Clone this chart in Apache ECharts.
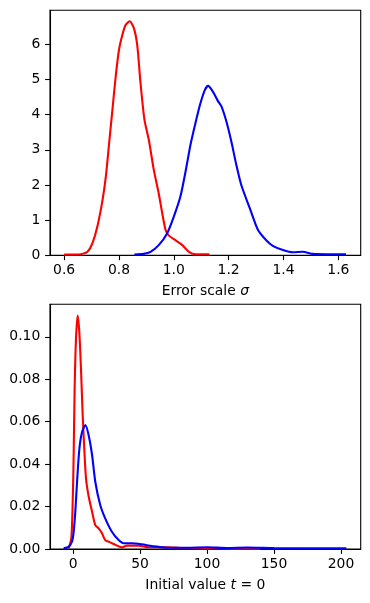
<!DOCTYPE html>
<html>
<head>
<meta charset="utf-8">
<script src="https://cdn.jsdelivr.net/npm/echarts@6/dist/echarts.min.js"></script>
<style>html,body{margin:0;padding:0;background:#fff;}#c{width:370px;height:603px;}</style>
</head>
<body>
<div id="c"></div>
<script>
// Top panel: error scale sigma
const sigmaRedX = [0.600,0.640,0.661,0.685,0.703,0.721,0.740,0.752,0.764,0.776,0.788,0.800,0.812,0.824,0.839,0.855,0.867,0.878,0.893,0.909,0.927,0.945,0.958,0.970,0.982,1.006,1.031,1.055,1.080,1.130];
const sigmaRedY = [0.02,0.02,0.03,0.10,0.34,0.81,1.57,2.23,3.18,4.13,5.08,5.84,6.26,6.55,6.66,6.45,5.95,4.95,3.85,3.28,2.43,1.76,1.19,0.72,0.56,0.43,0.29,0.10,0.03,0.03];
const sigmaBlueX = [0.856,0.890,0.915,0.945,0.976,1.000,1.024,1.042,1.061,1.077,1.095,1.113,1.125,1.143,1.160,1.174,1.192,1.210,1.228,1.246,1.277,1.307,1.337,1.361,1.398,1.434,1.470,1.507,1.560,1.628];
const sigmaBlueY = [0.02,0.04,0.10,0.29,0.63,1.10,1.67,2.35,3.15,3.70,4.27,4.70,4.82,4.65,4.40,4.23,3.80,3.23,2.57,2.00,1.34,0.72,0.43,0.27,0.15,0.085,0.10,0.04,0.03,0.03];
const sigmaTicks = [0.6,0.8,1.0,1.2,1.4,1.6];

// Bottom panel: initial value t = 0
const t0RedX = [-3.3,-1.3,-0.3,0.45,1.2,2.2,3.4,4.7,6.0,7.2,8.4,9.7,11.6,14.2,16.6,19.1,21.6,24,27.8,32.8,36.5,40.2,48.9,56.4,70,80,100,120,140];
const t0RedY = [0.0003,0.005,0.021,0.044,0.076,0.099,0.110,0.102,0.0835,0.063,0.047,0.033,0.025,0.0176,0.0113,0.0097,0.0074,0.0042,0.0031,0.0016,0.0008,0.0016,0.0016,0.0008,0.0008,0.0005,0.0003,0.0002,0.0002];
const t0BlueX = [-7,-3.3,-0.8,0.45,1.7,3,4.7,6.7,9.2,11.6,14.2,16.6,20.3,24,29,34,37.7,44,51.4,58.9,70,85,100,115,130,150,175,204];
const t0BlueY = [0.0003,0.001,0.0034,0.008,0.0176,0.0317,0.047,0.055,0.0584,0.0537,0.0443,0.0317,0.0207,0.0144,0.0081,0.0042,0.0027,0.0027,0.0022,0.0014,0.0006,0.0006,0.0008,0.0005,0.0007,0.0004,0.0003,0.0003];
const t0Ticks = [0,50,100,150,200];

const zip = (xs, ys) => xs.map((x, i) => [x, ys[i]]);
const FONT = 'DejaVu Sans';
const FS = 13.9;

function xAxis(gridIndex, min, max, ticks, fmt, name) {
  return {
    type: 'value', gridIndex, min, max,
    axisLine: {show: true, onZero: false, lineStyle: {color: '#000', width: 1.1}},
    axisTick: {show: true, inside: false, length: 4.9, lineStyle: {color: '#000', width: 1.1}, customValues: ticks},
    axisLabel: {show: true, margin: 8, color: '#000', fontFamily: FONT, fontSize: FS, customValues: ticks, formatter: fmt},
    splitLine: {show: false},
    name: name, nameLocation: 'middle', nameGap: 29,
    nameTextStyle: {color: '#000', fontFamily: FONT, fontSize: FS,
      rich: {i: {fontStyle: 'italic', fontFamily: FONT, fontSize: FS, color: '#000'}}}
  };
}
function yAxis(gridIndex, min, max, interval, fmt) {
  return {
    type: 'value', gridIndex, min, max, interval,
    axisLine: {show: true, onZero: false, lineStyle: {color: '#000', width: 1.1}},
    axisTick: {show: true, inside: false, length: 4.9, lineStyle: {color: '#000', width: 1.1}},
    axisLabel: {show: true, margin: 9.7, color: '#000', fontFamily: FONT, fontSize: FS, formatter: fmt,
      showMaxLabel: false},
    splitLine: {show: false}
  };
}
function line(xi, yi, data, color) {
  return {type: 'line', xAxisIndex: xi, yAxisIndex: yi, data, showSymbol: false, symbol: 'none',
    smooth: 0.25, lineStyle: {color, width: 2.1}, itemStyle: {color}, animation: false};
}

const chart = echarts.init(document.getElementById('c'), null, {renderer: 'canvas'});
chart.setOption({
  animation: false,
  backgroundColor: '#fff',
  grid: [
    {left: 50, top: 10.3, width: 310.7, height: 245, show: true, borderColor: '#000', borderWidth: 1.1, backgroundColor: 'transparent'},
    {left: 50, top: 304.3, width: 310.7, height: 244.7, show: true, borderColor: '#000', borderWidth: 1.1, backgroundColor: 'transparent'}
  ],
  xAxis: [
    xAxis(0, 0.5485, 1.6815, sigmaTicks, v => v.toFixed(1), 'Error scale {i|σ}'),
    xAxis(1, -17.2, 214.7, t0Ticks, v => String(Math.round(v)), 'Initial value {i|t} = 0')
  ],
  yAxis: [
    yAxis(0, 0, 6.97, 1, v => String(Math.round(v))),
    yAxis(1, 0, 0.1153, 0.02, v => v.toFixed(2))
  ],
  series: [
    line(0, 0, zip(sigmaRedX, sigmaRedY), '#ff0000'),
    line(0, 0, zip(sigmaBlueX, sigmaBlueY), '#0000ff'),
    line(1, 1, zip(t0RedX, t0RedY), '#ff0000'),
    line(1, 1, zip(t0BlueX, t0BlueY), '#0000ff')
  ]
});
</script>
</body>
</html>
